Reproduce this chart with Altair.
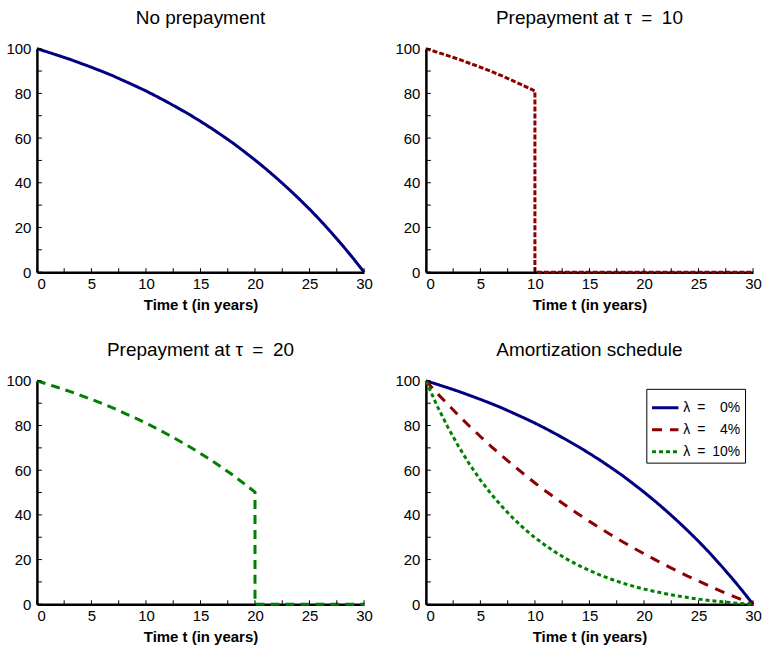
import altair as alt
import pandas as pd

# ---- data ----
years = list(range(0, 31))
bal_0 = [100.0, 98.5, 96.9, 95.3, 93.5, 91.7, 89.8, 87.8, 85.6, 83.4, 81.1,
         78.6, 76.0, 73.3, 70.5, 67.5, 64.4, 61.1, 57.7, 54.0, 50.2,
         46.2, 42.0, 37.6, 33.0, 28.2, 23.1, 17.7, 12.1, 6.2, 0.0]
bal_4 = [100.0, 94.6, 89.5, 84.5, 79.7, 75.1, 70.6, 66.3, 62.2, 58.2, 54.3,
         50.6, 47.1, 43.6, 40.3, 37.1, 34.0, 31.0, 28.1, 25.3, 22.6,
         20.0, 17.4, 15.0, 12.6, 10.4, 8.2, 6.0, 4.0, 1.9, 0.0]
bal_10 = [100.0, 89.1, 79.4, 70.6, 62.7, 55.6, 49.3, 43.6, 38.5, 33.9, 29.8,
          26.2, 22.9, 20.0, 17.4, 15.1, 13.0, 11.2, 9.5, 8.1, 6.8,
          5.7, 4.7, 3.8, 3.0, 2.3, 1.7, 1.2, 0.7, 0.3, 0.0]
series_labels = ["λ\u2002=\u2002\u20070%", "λ\u2002=\u2002\u20074%", "λ\u2002=\u200210%"]
series_colors = ["#000080", "#8B0000", "#008000"]
series_dash = [[1, 0], [10, 8], [4, 3]]
titles = ["No prepayment", "Prepayment at τ\u2002=\u200210",
          "Prepayment at τ\u2002=\u200220", "Amortization schedule"]
x_tick_labels = [0, 5, 10, 15, 20, 25, 30]
y_tick_labels = [0, 20, 40, 60, 80, 100]
x_minor = [i * 2.5 for i in range(13)]
y_minor = [i * 10 for i in range(11)]

FONT = "Liberation Sans"
W, H = 328, 224


def prepay(tau):
    t = [y for y in years if y <= tau] + [tau, 30]
    v = [bal_0[y] for y in years if y <= tau] + [0.0, 0.0]
    return pd.DataFrame({"t": t, "v": v, "o": list(range(len(t)))})


xs = alt.Scale(domain=[0, 30], nice=False, zero=False)
ys = alt.Scale(domain=[0, 100], nice=False)

x_axis = alt.Axis(values=x_tick_labels, ticks=False, grid=False, domainWidth=2.5,
                  domainColor="black", labelFont=FONT, labelFontSize=15,
                  labelColor="black", labelPadding=4,
                  labelAlign=alt.expr("datum.value == 0 ? 'left' : 'center'"),
                  title="Time t (in years)", titleFont=FONT, titleFontSize=15,
                  titleFontWeight="bold", titleColor="black", titlePadding=6)
y_axis = alt.Axis(values=y_tick_labels, ticks=False, grid=False, domainWidth=2.5,
                  domainColor="black", labelFont=FONT, labelFontSize=15,
                  labelColor="black", labelPadding=6, title=None)


def ticks():
    xt = alt.Chart(pd.DataFrame({"x": x_minor})).mark_rule(color="black", strokeWidth=1).encode(
        x=alt.X("x:Q", scale=xs, axis=x_axis), y=alt.value(H), y2=alt.value(H - 4))
    yt = alt.Chart(pd.DataFrame({"y": y_minor})).mark_rule(color="black", strokeWidth=1).encode(
        y=alt.Y("y:Q", scale=ys, axis=y_axis), x=alt.value(0), x2=alt.value(5))
    return xt + yt


def panel(title, lines):
    return alt.layer(*lines, ticks()).properties(
        width=W, height=H,
        title=alt.TitleParams(title, font=FONT, fontSize=19, fontWeight="normal",
                              color="black", offset=14))


def line(df, color, dash, width=3):
    return alt.Chart(df).mark_line(color=color, strokeDash=dash, strokeWidth=width,
                                   clip=False).encode(
        x=alt.X("t:Q", scale=xs, axis=x_axis),
        y=alt.Y("v:Q", scale=ys, axis=y_axis),
        order="o:Q")


df0 = pd.DataFrame({"t": years, "v": bal_0, "o": years})
p1 = panel(titles[0], [line(df0, "#000080", [1, 0])])
p2 = panel(titles[1], [line(prepay(10), "#8B0000", [5, 2])])
p3 = panel(titles[2], [line(prepay(20), "#008000", [9, 6])])

rows = []
for lab, vals in zip(series_labels, [bal_0, bal_4, bal_10]):
    for t, v in zip(years, vals):
        rows.append({"t": t, "v": v, "s": lab, "o": t})
dfa = pd.DataFrame(rows)
leg = alt.Legend(title=None, orient="top-right", offset=8,
                 strokeColor="black", fillColor="white",
                 padding=4, symbolType="stroke",
                 symbolSize=700, symbolStrokeWidth=3,
                 labelFont=FONT, labelFontSize=14, labelOffset=3,
                 labelColor="black", rowPadding=0)
amort = alt.Chart(dfa).mark_line(strokeWidth=3).encode(
    x=alt.X("t:Q", scale=xs, axis=x_axis),
    y=alt.Y("v:Q", scale=ys, axis=y_axis),
    color=alt.Color("s:N", scale=alt.Scale(domain=series_labels, range=series_colors),
                    legend=leg),
    strokeDash=alt.StrokeDash("s:N", scale=alt.Scale(domain=series_labels, range=series_dash),
                              legend=leg),
    order="o:Q")
p4 = panel(titles[3], [amort])

chart = alt.concat(p1, p2, p3, p4, columns=2, spacing={"column": 21, "row": 29}).resolve_scale(
    color="independent", strokeDash="independent"
).resolve_legend(
    color="independent", strokeDash="independent"
).properties(
    padding={"left": 5, "top": 8, "right": 0, "bottom": 0},
    background="white",
).configure_view(stroke=None)

chart.save("out.html", embed_options={"renderer": "svg", "actions": False})
